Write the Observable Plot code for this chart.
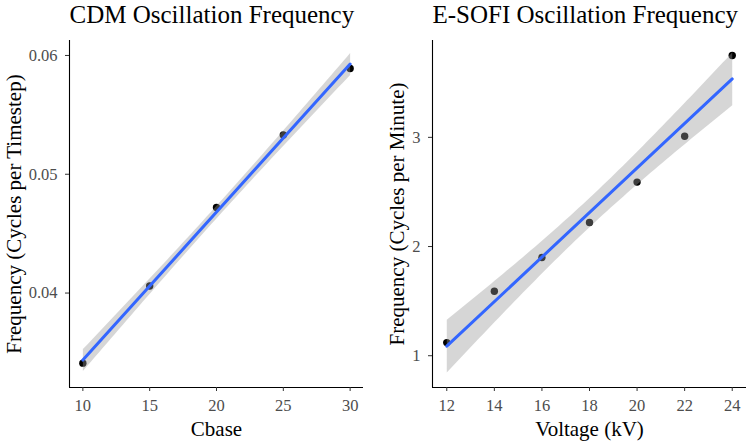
<!DOCTYPE html>
<html>
<head>
<meta charset="utf-8">
<script src="https://cdn.jsdelivr.net/npm/d3@7"></script>
<script src="https://cdn.jsdelivr.net/npm/@observablehq/plot@0.6"></script>
<style>
  html, body { margin: 0; padding: 0; background: #fff; }
  #wrap { position: relative; width: 750px; height: 443px; overflow: hidden; }
  .panel { position: absolute; top: 0; width: 375px; height: 443px; }
  svg, svg text { font-family: "Liberation Serif", "DejaVu Serif", serif !important; }
</style>
</head>
<body>
<div id="wrap">
  <div class="panel" id="left" style="left:0px"></div>
  <div class="panel" id="right" style="left:375px"></div>
</div>
<script>
// ---- Data ----
const cdmTitle = "CDM Oscillation Frequency";
const cdmXLabel = "Cbase";
const cdmYLabel = "Frequency (Cycles per Timestep)";
const cbase = [10, 15, 20, 25, 30];
const cdmFreq = [0.0341, 0.0406, 0.0472, 0.0533, 0.0589];
const cdmXTicks = [10, 15, 20, 25, 30];
const cdmYTicks = [0.04, 0.05, 0.06];

const esofiTitle = "E-SOFI Oscillation Frequency";
const esofiXLabel = "Voltage (kV)";
const esofiYLabel = "Frequency (Cycles per Minute)";
const voltage = [12, 14, 16, 18, 20, 22, 24];
const esofiFreq = [1.12, 1.59, 1.90, 2.22, 2.59, 3.01, 3.75];
const esofiXTicks = [12, 14, 16, 18, 20, 22, 24];
const esofiYTicks = [1, 2, 3];

const FONT = "Liberation Serif";

function panel({title, xLabel, yLabel, xs, ys, xDomain, yDomain, xTicks, yTicks, yFmt, marginLeft, marginRight, yLabelDx}) {
  const data = xs.map((x, i) => ({x, y: ys[i]}));
  return Plot.plot({
    width: 375,
    height: 443,
    marginTop: 40,
    marginBottom: 56,
    marginLeft,
    marginRight,
    style: {fontFamily: FONT, background: "white", overflow: "visible"},
    x: {domain: xDomain},
    y: {domain: yDomain},
    marks: [
      Plot.dot(data, {x: "x", y: "y", r: 3.7, fill: "black", stroke: "none"}),
      Plot.linearRegressionY(data, {x: "x", y: "y", stroke: "#3366FF", strokeWidth: 3, fill: "#999999", fillOpacity: 0.4, ci: 0.95}),
      Plot.ruleX([xDomain[0]], {stroke: "black", strokeWidth: 1.1}),
      Plot.ruleY([yDomain[0]], {stroke: "black", strokeWidth: 1.1}),
      Plot.axisX({ticks: xTicks, tickSize: 4, tickPadding: 8, fontSize: 16.5, fontFamily: FONT, fill: "#4d4d4d", stroke: "#333", label: null}),
      Plot.axisY({ticks: yTicks, tickSize: 4, tickPadding: 8, fontSize: 16.5, fontFamily: FONT, fill: "#4d4d4d", stroke: "#333", tickFormat: yFmt, label: null}),
      Plot.text([title], {frameAnchor: "top-left", textAnchor: "start", lineAnchor: "bottom", dy: -18, fontSize: 25, fontFamily: FONT, fill: "black"}),
      Plot.text([xLabel], {frameAnchor: "bottom", textAnchor: "middle", lineAnchor: "bottom", dy: 48, fontSize: 21, fontFamily: FONT, fill: "black"}),
      Plot.text([yLabel], {frameAnchor: "left", textAnchor: "middle", lineAnchor: "middle", rotate: -90, dx: yLabelDx, fontSize: 21, fontFamily: FONT, fill: "black"})
    ]
  });
}

document.getElementById("left").appendChild(panel({
  title: cdmTitle, xLabel: cdmXLabel, yLabel: cdmYLabel,
  xs: cbase, ys: cdmFreq,
  xDomain: [9, 31], yDomain: [0.03205, 0.06126],
  xTicks: cdmXTicks, yTicks: cdmYTicks, yFmt: d => d.toFixed(2),
  marginLeft: 69, marginRight: 12, yLabelDx: -55
}));

document.getElementById("right").appendChild(panel({
  title: esofiTitle, xLabel: esofiXLabel, yLabel: esofiYLabel,
  xs: voltage, ys: esofiFreq,
  xDomain: [11.4, 24.6], yDomain: [0.709, 3.887],
  xTicks: esofiXTicks, yTicks: esofiYTicks, yFmt: d => String(d),
  marginLeft: 57, marginRight: 4, yLabelDx: -35
}));
</script>
</body>
</html>
